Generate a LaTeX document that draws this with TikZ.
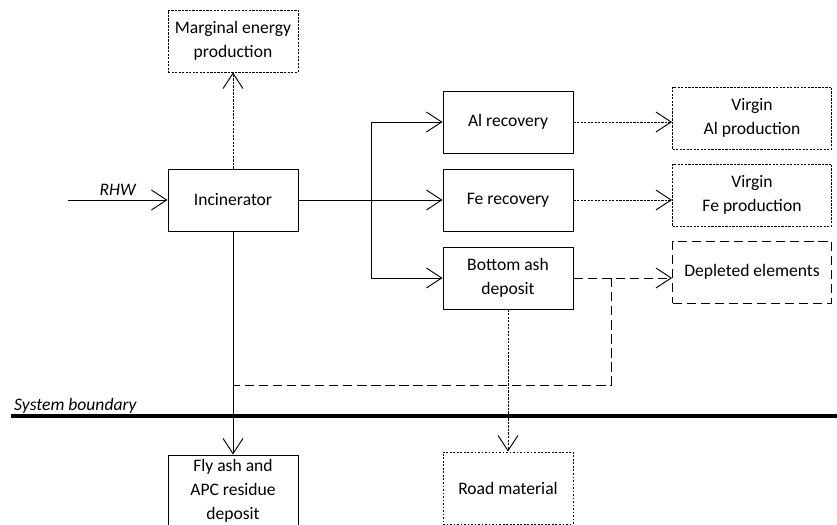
\documentclass[tikz,border=0pt]{standalone}
\usepackage{fontspec}
\setmainfont{Carlito}
\usetikzlibrary{arrows.meta}

\tikzset{
  box/.style={draw,line width=0.8pt,align=center,inner sep=0pt,
    minimum width=3.9cm,minimum height=1.86cm},
  widebox/.style={box,minimum width=4.77cm},
  fine/.style={dash pattern=on 2pt off 1pt},
  longdash/.style={dash pattern=on 8pt off 4pt},
  flow/.style={line width=0.8pt,-{Straight Barb[length=13pt,width=17pt,line width=0.8pt]}},
}

\begin{document}
\begin{tikzpicture}[x=0.03cm,y=-0.03cm,font=\fontsize{15}{20.5}\selectfont]
  \clip (0,0) rectangle (837,524);
  % main chain
  \node[box,fine] (marg) at (233,41) {Marginal energy\\production};
  \node[box] (inc) at (233,200) {Incinerator};
  \node[box] (al) at (508,122) {Al recovery};
  \node[box] (fe) at (508,200) {Fe recovery};
  \node[box] (bot) at (508,278) {Bottom ash\\deposit};
  \node[widebox,fine] (val) at (752,118) {Virgin\\Al production};
  \node[widebox,fine] (vfe) at (752,195) {Virgin\\Fe production};
  \node[widebox,longdash] (dep) at (752,272) {Depleted elements};
  \node[box,minimum height=2.16cm] (fly) at (233,491) {Fly ash and\\APC residue\\deposit};
  \node[box,dash pattern=on 1.5pt off 1.5pt,minimum height=2.16cm] (road) at (508,488) {Road material};
  \coordinate (in) at (68,200);
  \coordinate (split) at (371,200);
  \coordinate (br) at (611,385);

  \draw[flow] (in) -- node[above,font=\fontsize{15}{18}\itshape] {RHW} (inc);
  \draw[flow,fine] (inc) -- (marg);
  \draw[flow] (inc) -- (fe);
  \draw[flow] (split) |- (al);
  \draw[flow] (split) |- (bot);
  \draw[flow,fine] (al.east) -- (al.east -| val.west);
  \draw[flow,fine] (fe.east) -- (fe.east -| vfe.west);
  \draw[flow,longdash] (bot.east) -- (bot.east -| dep.west);
  \draw[line width=0.8pt,longdash] (bot.east -| br) -- (br) -- (br -| inc.south);
  \draw[flow] (inc) -- (fly);
  \draw[flow,fine] (bot) -- (road);

  % boundary
  \draw[line width=3.4pt] (11,416) coordinate (sb) -- (837,416);
  \node[anchor=base west,inner sep=0pt,font=\fontsize{15}{18}\itshape] (sblab) at (14,410) {System boundary};
\end{tikzpicture}
\end{document}
